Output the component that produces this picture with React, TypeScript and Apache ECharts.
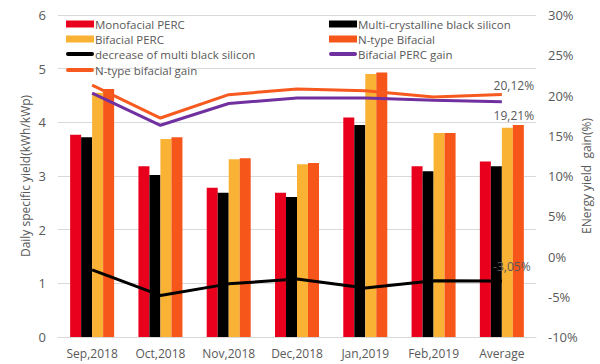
import React, { useEffect, useRef } from "react";
import * as echarts from "echarts";

const categories = ["Sep,2018", "Oct,2018", "Nov,2018", "Dec,2018", "Jan,2019", "Feb,2019", "Average"];
const monofacialPERC = [3.77, 3.18, 2.78, 2.69, 4.09, 3.18, 3.27];
const multiBlackSilicon = [3.72, 3.02, 2.69, 2.61, 3.95, 3.09, 3.18];
const bifacialPERC = [4.55, 3.69, 3.31, 3.22, 4.9, 3.8, 3.9];
const nTypeBifacial = [4.62, 3.72, 3.33, 3.24, 4.93, 3.8, 3.95];
const decreaseMulti = [-1.65, -4.84, -3.4, -2.8, -3.9, -3.0, -3.05];
const bifacialPERCGain = [20.3, 16.3, 19.0, 19.7, 19.7, 19.4, 19.21];
const nTypeGain = [21.3, 17.2, 20.1, 20.8, 20.6, 19.8, 20.12];
const leftTicks = { min: 0, max: 6, interval: 1 };
const rightTicks = { min: -10, max: 30, interval: 5 };

const FONT = "'Open Sans', 'Liberation Sans', sans-serif";
const GREY = "#595959";
const LINE_ICON = "path://M2 0H26A2 2 0 0 1 26 4H2A2 2 0 0 1 2 0Z";

function withLastLabel(values: number[], label: any) {
  return values.map((v, i) =>
    i === values.length - 1
      ? { value: v, label: { show: true, ...label, formatter: v.toFixed(2).replace(".", ",") + "%" } }
      : v
  );
}

export default function App() {
  const ref = useRef<HTMLDivElement>(null);
  useEffect(() => {
    if (!ref.current) return;
    const chart = echarts.init(ref.current, undefined, { renderer: "svg" });
    const labelBase = { color: GREY, fontSize: 12, fontFamily: FONT };
    const legendText = { color: GREY, fontSize: 11.5, fontFamily: FONT, lineHeight: 15, padding: [0, 0, 0, -4] };
    const legendItem = (name: string, icon: string, left: number, centerY: number) => ({
      orient: "vertical",
      left,
      top: centerY - 6.5,
      padding: 0,
      itemWidth: 28,
      itemHeight: 7,
      itemGap: 0,
      textStyle: legendText,
      data: [{ name, icon }],
    });
    const lineSeries = (name: string, values: number[], color: string, label: any) => ({
      name,
      type: "line",
      yAxisIndex: 1,
      data: withLastLabel(values, { ...labelBase, ...label }),
      symbol: "circle",
      symbolSize: 0.1,
      showSymbol: true,
      lineStyle: { color, width: 3 },
      itemStyle: { color },
      z: 5,
    });
    chart.setOption({
      animation: false,
      textStyle: { fontFamily: FONT },
      grid: { left: 58, right: 62, top: 15, bottom: 27 },
      legend: [
        legendItem("Monofacial PERC", "rect", 66, 23),
        legendItem("Bifacial PERC", "rect", 66, 38),
        legendItem("decrease of multi black silicon", LINE_ICON, 66, 53),
        legendItem("N-type bifacial gain", LINE_ICON, 66, 69),
        legendItem("Multi-crystalline black silicon", "rect", 329, 23),
        legendItem("N-type Bifacial", "rect", 329, 38),
        legendItem("Bifacial PERC gain", LINE_ICON, 329, 53),
      ],
      xAxis: {
        type: "category",
        data: categories,
        axisLine: { lineStyle: { color: "#d9d9d9" } },
        axisTick: { show: false },
        axisLabel: { color: GREY, fontSize: 12, fontFamily: FONT, margin: 10, interval: 0 },
      },
      yAxis: [
        {
          type: "value",
          ...leftTicks,
          name: "Daily specific yield(kWh/kWp)",
          nameLocation: "middle",
          nameGap: 27,
          nameMoveOverlap: false,
          nameTextStyle: { color: GREY, fontSize: 12, fontFamily: FONT },
          axisLabel: { color: GREY, fontSize: 13, fontFamily: FONT, margin: 12 },
          splitLine: { lineStyle: { color: "#d9d9d9" } },
          axisLine: { show: false },
          axisTick: { show: false },
        },
        {
          type: "value",
          ...rightTicks,
          name: "ENergy yield  gain(%)",
          nameLocation: "middle",
          nameGap: 44,
          nameMoveOverlap: false,
          nameRotate: 90,
          nameTextStyle: { color: GREY, fontSize: 12, fontFamily: FONT },
          axisLabel: { color: GREY, fontSize: 13, fontFamily: FONT, margin: 12, formatter: "{value}%" },
          splitLine: { show: false },
          axisLine: { show: false },
          axisTick: { show: false },
        },
      ],
      series: [
        { name: "Monofacial PERC", type: "bar", data: monofacialPERC, barWidth: 11, barGap: "0%", itemStyle: { color: "#E8001C" } },
        { name: "Multi-crystalline black silicon", type: "bar", data: multiBlackSilicon, barWidth: 11, barGap: "0%", itemStyle: { color: "#000000" } },
        { name: "Bifacial PERC", type: "bar", data: bifacialPERC, barWidth: 11, barGap: "0%", itemStyle: { color: "#F9B233" } },
        { name: "N-type Bifacial", type: "bar", data: nTypeBifacial, barWidth: 11, barGap: "0%", itemStyle: { color: "#F6561A" } },
        lineSeries("decrease of multi black silicon", decreaseMulti, "#000000", { position: "top", offset: [10, -4] }),
        lineSeries("Bifacial PERC gain", bifacialPERCGain, "#7030A0", { position: "bottom", offset: [12, 3] }),
        lineSeries("N-type bifacial gain", nTypeGain, "#F65A1E", { position: "top", offset: [12, 2] }),
      ],
    });
    return () => chart.dispose();
  }, []);
  return <div ref={ref} style={{ width: 600, height: 364, position: "absolute", left: 0, top: 0 }} />;
}
